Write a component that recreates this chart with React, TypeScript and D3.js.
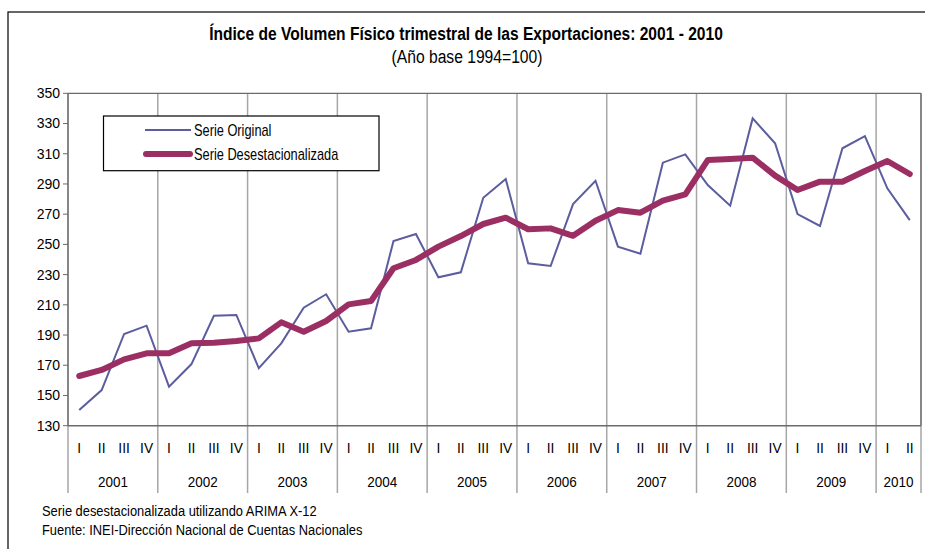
import React from "react";
import * as d3 from "d3";

const years = ["2001", "2002", "2003", "2004", "2005", "2006", "2007", "2008", "2009", "2010"];
const quartersPerYear = [4, 4, 4, 4, 4, 4, 4, 4, 4, 2];
const quarterNames = ["I", "II", "III", "IV"];
const yTicks = [130, 150, 170, 190, 210, 230, 250, 270, 290, 310, 330, 350];

const serieOriginal = [
  140.4, 153.6, 190.7, 196.2,
  155.8, 170.8, 202.8, 203.3,
  168.0, 184.5, 208.1, 217.0,
  192.2, 194.5, 252.2, 256.9,
  228.2, 231.5, 280.9, 293.3,
  237.5, 235.7, 276.7, 292.1,
  248.5, 243.8, 304.1, 309.6,
  289.3, 275.6, 333.4, 316.9,
  270.1, 262.2, 313.6, 321.7,
  287.1, 266.1,
];
const serieDesest = [
  162.9, 166.9, 173.9, 177.9,
  177.9, 184.5, 184.9, 186.1,
  187.8, 198.4, 192.2, 199.3,
  210.3, 212.5, 234.2, 239.7,
  248.5, 255.5, 263.5, 267.7,
  260.0, 260.6, 255.7, 265.7,
  272.7, 271.0, 278.9, 283.1,
  305.8, 306.5, 307.4, 295.5,
  286.0, 291.5, 291.5, 298.6,
  305.2, 296.6,
];

const title = "Índice de Volumen Físico trimestral de las Exportaciones: 2001 - 2010";
const subtitle = "(Año base 1994=100)";
const legendLabels = ["Serie Original", "Serie Desestacionalizada"];
const notes = [
  "Serie desestacionalizada utilizando ARIMA X-12",
  "Fuente: INEI-Dirección Nacional de Cuentas Nacionales",
];

const FONT = "'Liberation Sans', Arial, sans-serif";
const COL_ORIG = "#5b5d9f";
const COL_DES = "#9b2f63";

function NText(props: {
  x: number;
  y: number;
  size: number;
  sx: number;
  anchor?: "start" | "middle" | "end";
  bold?: boolean;
  children: React.ReactNode;
}) {
  const { x, y, size, sx, anchor = "start", bold = false, children } = props;
  return (
    <g transform={`translate(${x},${y}) scale(${sx},1)`}>
      <text x={0} y={0} dy="0.35em" textAnchor={anchor} fontSize={size} fontWeight={bold ? "bold" : "normal"} fill="#000">
        {children}
      </text>
    </g>
  );
}

export default function App() {
  const W = 925;
  const H = 549;
  const left = 68;
  const right = 921;
  const top = 93.3;
  const bottom = 425.7;

  const quarters: { year: string; q: string; key: string }[] = [];
  years.forEach((y, yi) => {
    for (let k = 0; k < quartersPerYear[yi]; k++) {
      quarters.push({ year: y, q: quarterNames[k], key: `${y}-${k}` });
    }
  });

  const x = d3.scaleBand<string>().domain(quarters.map((d) => d.key)).range([left, right]).padding(0);
  const y = d3.scaleLinear().domain([130, 350]).range([bottom, top]);
  const xc = (i: number) => (x(quarters[i].key) as number) + x.bandwidth() / 2;

  const line = d3
    .line<number>()
    .x((_, i) => xc(i))
    .y((v) => y(v));

  const boundaries: number[] = [];
  const yearCenters: { label: string; cx: number }[] = [];
  let idx = 0;
  years.forEach((yr, yi) => {
    const x0 = x(quarters[idx].key) as number;
    boundaries.push(x0);
    idx += quartersPerYear[yi];
    const x1 = idx < quarters.length ? (x(quarters[idx].key) as number) : right;
    yearCenters.push({ label: yr, cx: (x0 + x1) / 2 });
  });
  boundaries.push(right);

  return (
    <svg width={W} height={H} style={{ position: "absolute", left: 0, top: 0 }} fontFamily={FONT}>
      <rect x={0} y={0} width={W} height={H} fill="#fff" />
      <rect x={8} y={12} width={W + 10} height={H + 10} fill="none" stroke="#000" strokeWidth={1.2} />

      <NText x={466} y={33} size={19} sx={0.82} anchor="middle" bold>
        {title}
      </NText>
      <NText x={467} y={57} size={18} sx={0.87} anchor="middle">
        {subtitle}
      </NText>

      {boundaries.map((bx, i) => (
        <line key={`b${i}`} x1={bx} x2={bx} y1={top} y2={493} stroke="#a6a6a6" strokeWidth={1.5} />
      ))}

      <line x1={left} x2={right} y1={top} y2={top} stroke="#6b6b6b" strokeWidth={1.3} />
      <line x1={right} x2={right} y1={top} y2={bottom} stroke="#6b6b6b" strokeWidth={1.3} />
      <line x1={left} x2={right} y1={bottom} y2={bottom} stroke="#6b6b6b" strokeWidth={1.5} />
      <line x1={left} x2={left} y1={top} y2={bottom} stroke="#6b6b6b" strokeWidth={1.3} />

      {yTicks.map((t) => (
        <g key={`t${t}`}>
          <line x1={left - 5} x2={left} y1={y(t)} y2={y(t)} stroke="#6b6b6b" strokeWidth={1} />
          <text x={left - 8} y={y(t)} dy="0.35em" textAnchor="end" fontSize={14} fill="#000">
            {t}
          </text>
        </g>
      ))}

      {quarters.map((q, i) => (
        <NText key={q.key} x={xc(i)} y={448} size={15} sx={0.92} anchor="middle">
          {q.q}
        </NText>
      ))}
      {yearCenters.map((d) => (
        <NText key={d.label} x={d.cx} y={482} size={15} sx={0.9} anchor="middle">
          {d.label}
        </NText>
      ))}

      <path d={line(serieOriginal) || ""} fill="none" stroke={COL_ORIG} strokeWidth={2} strokeLinejoin="miter" />
      <path
        d={line(serieDesest) || ""}
        fill="none"
        stroke={COL_DES}
        strokeWidth={6}
        strokeLinejoin="round"
        strokeLinecap="round"
      />

      <rect x={103.5} y={116} width={275.5} height={54.7} fill="#fff" stroke="#000" strokeWidth={1.2} />
      <line x1={145} x2={191} y1={130} y2={130} stroke={COL_ORIG} strokeWidth={2} />
      <NText x={194} y={130} size={16} sx={0.8}>
        {legendLabels[0]}
      </NText>
      <line x1={146} x2={190} y1={154} y2={154} stroke={COL_DES} strokeWidth={6} strokeLinecap="round" />
      <NText x={194} y={154} size={16} sx={0.8}>
        {legendLabels[1]}
      </NText>

      {notes.map((n, i) => (
        <NText key={n} x={42} y={511.5 + i * 19} size={14} sx={0.92}>
          {n}
        </NText>
      ))}
    </svg>
  );
}
